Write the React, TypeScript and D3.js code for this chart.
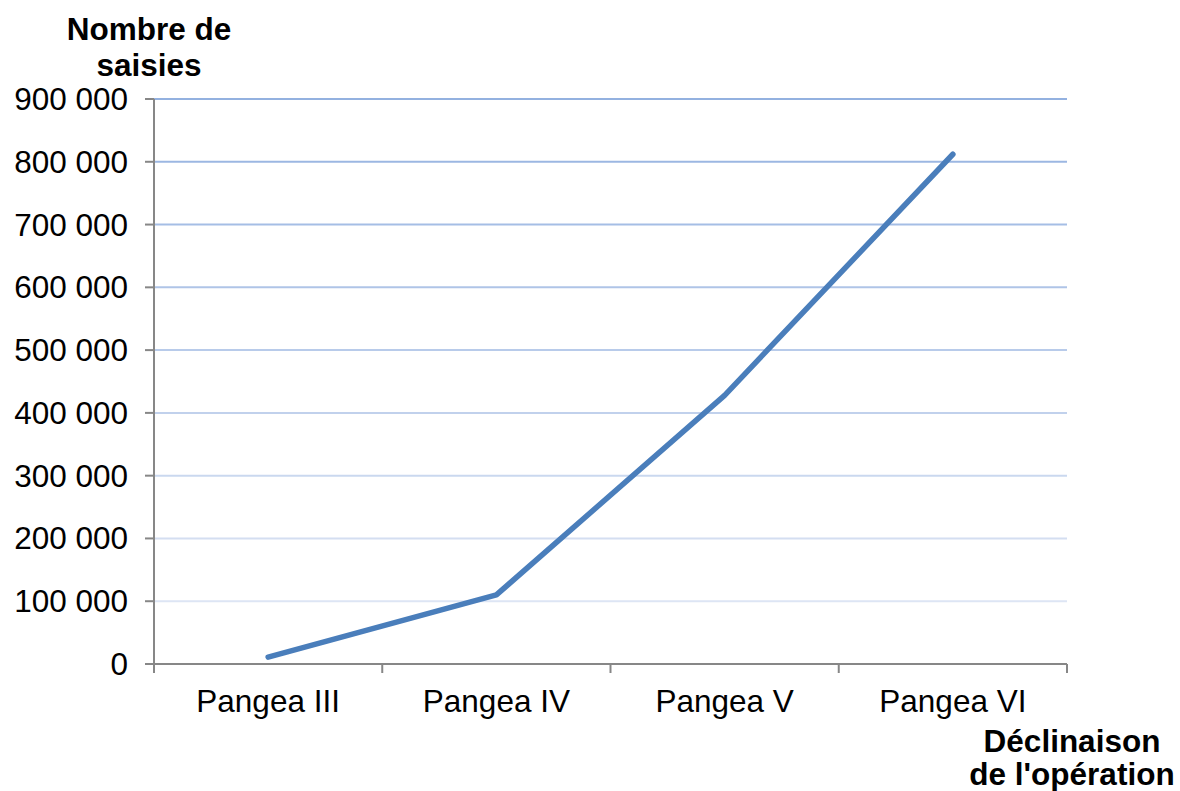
import { useRef, useEffect } from 'react';
import * as d3 from 'd3';

const categories = ['Pangea III', 'Pangea IV', 'Pangea V', 'Pangea VI'];
const seizures = [11000, 110000, 428000, 812000];
const yTicks = [0, 100000, 200000, 300000, 400000, 500000, 600000, 700000, 800000, 900000];
const yTitle = ['Nombre de', 'saisies'];
const xTitle = ['Déclinaison', "de l'opération"];

const width = 1180;
const height = 791;
const plot = { left: 154, right: 1067, top: 99, bottom: 664 };
const font = '"Liberation Sans", Arial, sans-serif';
const fs = 31.5;

const fmt = (v: number) => d3.format(',')(v).replace(/,/g, ' ');

export default function App() {
  const svgRef = useRef<SVGSVGElement>(null);

  useEffect(() => {
    if (!svgRef.current) return;
    const svg = d3.select(svgRef.current);
    svg.selectAll('*').remove();

    const x = d3.scaleBand().domain(categories).range([plot.left, plot.right]);
    const y = d3.scaleLinear().domain([0, 900000]).range([plot.bottom, plot.top]);
    const gridColor = d3.interpolateRgb('#e6ebf6', '#93b1e0');

    // gridlines
    svg
      .append('g')
      .selectAll('line')
      .data(yTicks.filter((t) => t > 0))
      .join('line')
      .attr('x1', plot.left)
      .attr('x2', plot.right)
      .attr('y1', (d) => y(d))
      .attr('y2', (d) => y(d))
      .attr('stroke', (d) => gridColor(d / 900000))
      .attr('stroke-width', 2);

    // y axis
    const axisColor = '#878787';
    svg
      .append('line')
      .attr('x1', plot.left)
      .attr('x2', plot.left)
      .attr('y1', plot.top)
      .attr('y2', plot.bottom + 8)
      .attr('stroke', axisColor)
      .attr('stroke-width', 2);
    const yt = svg.append('g');
    yt.selectAll('line')
      .data(yTicks)
      .join('line')
      .attr('x1', plot.left - 9)
      .attr('x2', plot.left)
      .attr('y1', (d) => y(d))
      .attr('y2', (d) => y(d))
      .attr('stroke', axisColor)
      .attr('stroke-width', 2);
    yt.selectAll('text')
      .data(yTicks)
      .join('text')
      .attr('x', 128)
      .attr('y', (d) => y(d) + 11)
      .attr('text-anchor', 'end')
      .attr('font-family', font)
      .attr('font-size', fs)
      .attr('fill', '#000')
      .text((d) => fmt(d));

    // x axis
    svg
      .append('line')
      .attr('x1', plot.left - 9)
      .attr('x2', plot.right)
      .attr('y1', plot.bottom)
      .attr('y2', plot.bottom)
      .attr('stroke', axisColor)
      .attr('stroke-width', 2);
    const bounds = categories.map((c) => x(c) as number).concat([plot.right]);
    svg
      .append('g')
      .selectAll('line')
      .data(bounds)
      .join('line')
      .attr('x1', (d) => d)
      .attr('x2', (d) => d)
      .attr('y1', plot.bottom)
      .attr('y2', plot.bottom + 9)
      .attr('stroke', axisColor)
      .attr('stroke-width', 2);
    svg
      .append('g')
      .selectAll('text')
      .data(categories)
      .join('text')
      .attr('x', (d) => (x(d) as number) + x.bandwidth() / 2)
      .attr('y', 712)
      .attr('text-anchor', 'middle')
      .attr('font-family', font)
      .attr('font-size', fs)
      .attr('fill', '#000')
      .text((d) => d);

    // series line
    const line = d3
      .line<number>()
      .x((_, i) => (x(categories[i]) as number) + x.bandwidth() / 2)
      .y((d) => y(d));
    svg
      .append('path')
      .datum(seizures)
      .attr('fill', 'none')
      .attr('stroke', '#4a7ebb')
      .attr('stroke-width', 5.5)
      .attr('stroke-linecap', 'round')
      .attr('stroke-linejoin', 'round')
      .attr('d', line);

    // titles
    svg
      .append('g')
      .selectAll('text')
      .data(yTitle)
      .join('text')
      .attr('x', 149)
      .attr('y', (_, i) => 40 + i * 36)
      .attr('text-anchor', 'middle')
      .attr('font-family', font)
      .attr('font-weight', 'bold')
      .attr('font-size', fs)
      .attr('fill', '#000')
      .text((d) => d);
    svg
      .append('g')
      .selectAll('text')
      .data(xTitle)
      .join('text')
      .attr('x', 1072)
      .attr('y', (_, i) => 752 + i * 33)
      .attr('text-anchor', 'middle')
      .attr('font-family', font)
      .attr('font-weight', 'bold')
      .attr('font-size', fs)
      .attr('fill', '#000')
      .text((d) => d);
  }, []);

  return (
    <svg
      ref={svgRef}
      width={width}
      height={height}
      viewBox={`0 0 ${width} ${height}`}
      style={{ position: 'absolute', left: 0, top: 0, background: '#fff' }}
    />
  );
}
